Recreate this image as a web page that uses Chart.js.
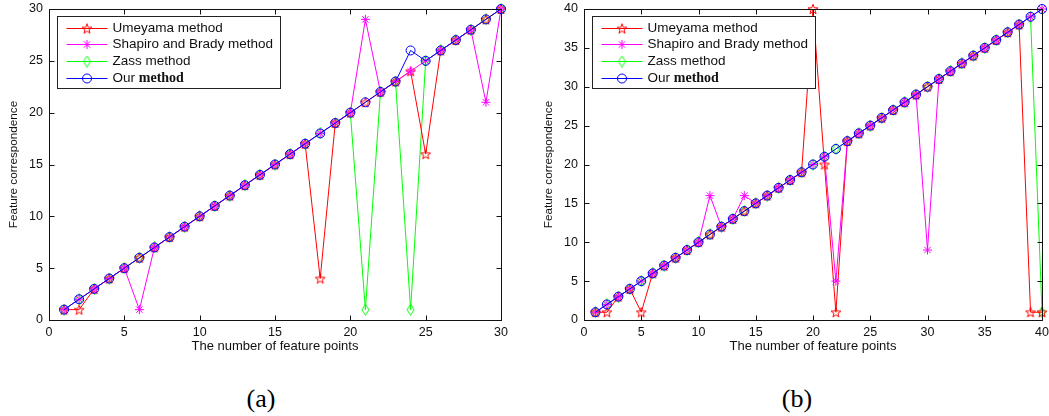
<!DOCTYPE html>
<html>
<head>
<meta charset="utf-8">
<script src="https://cdn.jsdelivr.net/npm/chart.js@4.4.0/dist/chart.umd.min.js"></script>
<style>
html,body{margin:0;padding:0;background:#fff;overflow:hidden;}
body{width:1049px;height:416px;position:relative;}
canvas{position:absolute;top:0;}
#chartA{left:0;}
#chartB{left:530px;}
.caption{position:absolute;top:384px;line-height:30px;font-family:"Liberation Serif","Times New Roman",serif;font-size:26px;color:#000;transform:translateX(-50%);}
</style>
</head>
<body>
<canvas id="chartA" width="524" height="360"></canvas>
<canvas id="chartB" width="530" height="360"></canvas>
<div class="caption" style="left:261px">(a)</div>
<div class="caption" style="left:797px">(b)</div>
<script>
// Feature correspondence, panel (a): 30 points
const pointsA=[1,2,3,4,5,6,7,8,9,10,11,12,13,14,15,16,17,18,19,20,21,22,23,24,25,26,27,28,29,30];
const umeyamaA=[1,1,3,4,5,6,7,8,9,10,11,12,13,14,15,16,17,4,19,20,21,22,23,24,16,26,27,28,29,30];
const shapiroA=[1,2,3,4,5,1,7,8,9,10,11,12,13,14,15,16,17,18,19,20,29,22,23,24,25,26,27,28,21,30];
const zassA=[1,2,3,4,5,6,7,8,9,10,11,12,13,14,15,16,17,18,19,20,1,22,23,1,25,26,27,28,29,30];
const oursA=[1,2,3,4,5,6,7,8,9,10,11,12,13,14,15,16,17,18,19,20,21,22,23,26,25,26,27,28,29,30];
const xTicksA=[0,5,10,15,20,25,30];
const yTicksA=[0,5,10,15,20,25,30];

// panel (b): 40 points
const pointsB=[1,2,3,4,5,6,7,8,9,10,11,12,13,14,15,16,17,18,19,20,21,22,23,24,25,26,27,28,29,30,31,32,33,34,35,36,37,38,39,40];
const umeyamaB=[1,1,3,4,1,6,7,8,9,10,11,12,13,14,15,16,17,18,19,40,20,1,23,24,25,26,27,28,29,30,31,32,33,34,35,36,37,38,1,1];
const shapiroB=[1,2,3,4,5,6,7,8,9,10,16,12,13,16,15,16,17,18,19,20,21,5,23,24,25,26,27,28,29,9,31,32,33,34,35,36,37,38,39,40];
const zassB=[1,2,3,4,5,6,7,8,9,10,11,12,13,14,15,16,17,18,19,20,21,22,23,24,25,26,27,28,29,30,31,32,33,34,35,36,37,38,39,1];
const oursB=[1,2,3,4,5,6,7,8,9,10,11,12,13,14,15,16,17,18,19,20,21,22,23,24,25,26,27,28,29,30,31,32,33,34,35,36,37,38,39,40];
const xTicksB=[0,5,10,15,20,25,30,35,40];
const yTicksB=[0,5,10,15,20,25,30,35,40];

const methodNames=["Umeyama method","Shapiro and Brady method","Zass method","Our method"];

const sans="'Liberation Sans', Arial, sans-serif";

// matlab-like markers
function pentagram(color){
  let c=document.createElement("canvas");
  c.width=12;c.height=12;
  let g=c.getContext("2d");
  g.strokeStyle=color;g.lineWidth=1;
  g.beginPath();
  for(let i=0;i<10;i++){
    let r=i%2?2.1:5.2;
    let a=-Math.PI/2+i*Math.PI/5;
    let px=6+r*Math.cos(a),py=6.5+r*Math.sin(a);
    if(i)g.lineTo(px,py);else g.moveTo(px,py);
  }
  g.closePath();g.stroke();
  return c;
}

function diamond(color){
  let c=document.createElement("canvas");
  c.width=9;c.height=12;
  let g=c.getContext("2d");
  g.strokeStyle=color;g.lineWidth=1;
  g.beginPath();
  g.moveTo(4.5,0.5);g.lineTo(8,6);g.lineTo(4.5,11.5);g.lineTo(1,6);
  g.closePath();g.stroke();
  return c;
}

// higher order is drawn first (underneath)
const styles=[
  {color:"#ff0000",point:pentagram("#ff0000"),order:2},
  {color:"#ff00ff",point:"star",order:1},
  {color:"#00ff00",point:diamond("#00ff00"),order:3},
  {color:"#0000ff",point:"circle",order:0}
];

function makeDatasets(xs,series){
  return series.map((ys,i)=>({
    label:methodNames[i],
    data:xs.map((x,j)=>({x:x,y:ys[j]})),
    borderColor:styles[i].color,
    backgroundColor:"rgba(0,0,0,0)",
    borderWidth:1,
    pointStyle:styles[i].point,
    pointRadius:4.5,
    pointBorderWidth:1,
    pointBorderColor:styles[i].color,
    pointBackgroundColor:"rgba(0,0,0,0)",
    order:styles[i].order,
    tension:0,
    clip:false
  }));
}

// box + inward ticks on all four sides
const framePlugin={
  id:"frame",
  afterDatasetsDraw(chart){
    const {ctx,chartArea:a,scales:{x,y}}=chart;
    const L=Math.round(a.left)+0.5,R=Math.round(a.right)+0.5,T=Math.round(a.top)+0.5,B=Math.round(a.bottom)+0.5;
    ctx.save();
    ctx.strokeStyle="#111";ctx.lineWidth=1;
    ctx.strokeRect(L,T,R-L,B-T);
    ctx.beginPath();
    x.ticks.forEach(t=>{
      let px=Math.round(x.getPixelForValue(t.value))+0.5;
      ctx.moveTo(px,B);ctx.lineTo(px,B-5);
      ctx.moveTo(px,T);ctx.lineTo(px,T+5);
    });
    y.ticks.forEach(t=>{
      let py=Math.round(y.getPixelForValue(t.value))+0.5;
      ctx.moveTo(L,py);ctx.lineTo(L+5,py);
      ctx.moveTo(R,py);ctx.lineTo(R-5,py);
    });
    ctx.stroke();
    ctx.restore();
  }
};

// legend box inside the top left corner
const legendPlugin={
  id:"boxLegend",
  afterDraw(chart){
    const {ctx,chartArea:a}=chart;
    const sets=chart.data.datasets;
    ctx.save();
    ctx.font="13.5px "+sans;
    let w=0;
    sets.forEach(ds=>{w=Math.max(w,ctx.measureText(ds.label).width);});
    const left=Math.round(a.left)+8.5,top=Math.round(a.top)+7.5;
    const boxW=Math.round(55+w+7),boxH=72;
    ctx.fillStyle="#fff";
    ctx.fillRect(left,top,boxW,boxH);
    ctx.strokeStyle="#222";ctx.lineWidth=1;
    ctx.strokeRect(left,top,boxW,boxH);
    sets.forEach((ds,i)=>{
      const cy=Math.round(top+11+i*16.7)+0.5;
      ctx.strokeStyle=ds.borderColor;
      ctx.beginPath();ctx.moveTo(left+9,cy);ctx.lineTo(left+50,cy);ctx.stroke();
      ctx.fillStyle="rgba(0,0,0,0)";
      Chart.helpers.drawPoint(ctx,{pointStyle:ds.pointStyle,radius:4.5,borderWidth:1,rotation:0},left+29.5,cy);
      ctx.fillStyle="#111";
      ctx.textBaseline="middle";
      let tx=left+55;
      if(i===3){
        // the last entry mixes a sans "Our" with a serif "method"
        let parts=ds.label.split(" ");
        ctx.font="13.5px "+sans;
        ctx.fillText(parts[0]+" ",tx,cy);
        tx+=ctx.measureText(parts[0]+" ").width;
        ctx.font="bold 14px 'Liberation Serif', 'Times New Roman', serif";
        ctx.fillText(parts.slice(1).join(" "),tx,cy);
      }else{
        ctx.font="13.5px "+sans;
        ctx.fillText(ds.label,tx,cy);
      }
    });
    ctx.restore();
  }
};

function noOverflow(s){
  s.paddingTop=0;s.paddingBottom=0;s.paddingLeft=0;s.paddingRight=0;
}

function makeChart(id,xs,series,xTicks,yTicks,axisWidth,padRight,titlePad){
  return new Chart(document.getElementById(id),{
    type:"line",
    data:{datasets:makeDatasets(xs,series)},
    options:{
      responsive:false,
      animation:false,
      devicePixelRatio:1,
      layout:{padding:{left:0,top:9,right:padRight,bottom:0}},
      plugins:{legend:{display:false},tooltip:{enabled:false}},
      scales:{
        x:{
          type:"linear",
          min:xTicks[0],
          max:xTicks[xTicks.length-1],
          afterBuildTicks:s=>{s.ticks=xTicks.map(v=>({value:v}));},
          afterFit:s=>{s.height=40;noOverflow(s);},
          grid:{display:false,drawTicks:false},
          border:{display:false},
          ticks:{padding:5,color:"#111",autoSkip:false,maxRotation:0,font:{family:sans,size:12.5}},
          title:{display:true,text:"The number of feature points",color:"#111",font:{family:sans,size:13},padding:{top:0,bottom:6}}
        },
        y:{
          type:"linear",
          min:yTicks[0],
          max:yTicks[yTicks.length-1],
          afterBuildTicks:s=>{s.ticks=yTicks.map(v=>({value:v}));},
          afterFit:s=>{s.width=axisWidth;noOverflow(s);},
          grid:{display:false,drawTicks:false},
          border:{display:false},
          ticks:{padding:6,color:"#111",font:{family:sans,size:12.5}},
          title:{display:true,text:"Feature correspondence",color:"#111",font:{family:sans,size:11.7},padding:{top:titlePad,bottom:0}}
        }
      }
    },
    plugins:[framePlugin,legendPlugin]
  });
}

makeChart("chartA",pointsA,[umeyamaA,shapiroA,zassA,oursA],xTicksA,yTicksA,49,23,7);
makeChart("chartB",pointsB,[umeyamaB,shapiroB,zassB,oursB],xTicksB,yTicksB,54,18,12);
</script>
</body>
</html>
